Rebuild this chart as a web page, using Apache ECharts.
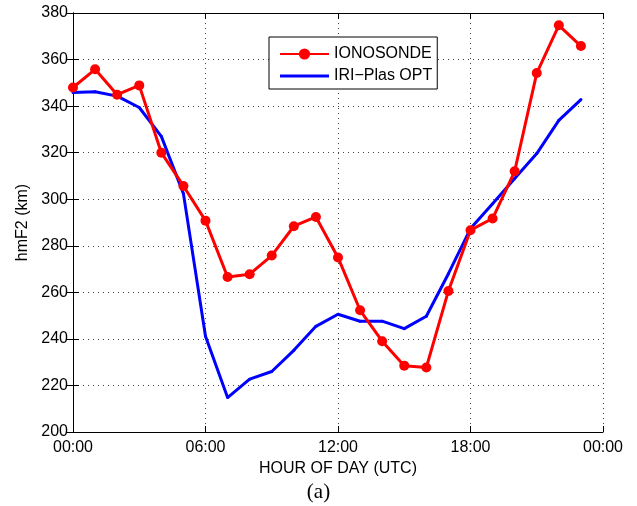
<!DOCTYPE html>
<html>
<head>
<meta charset="utf-8">
<script src="https://cdn.jsdelivr.net/npm/echarts@6/dist/echarts.min.js"></script>
<style>
  html, body { margin: 0; padding: 0; background: #fff; }
  #chart { width: 637px; height: 506px; }
</style>
</head>
<body>
<div id="chart"></div>
<script>
// hour of day (UTC)
const hours = [0, 1, 2, 3, 4, 5, 6, 7, 8, 9, 10, 11, 12, 13, 14, 15, 16, 17, 18, 19, 20, 21, 22, 23]
const ionosonde = [348, 355.8, 344.9, 348.9, 320, 305.7, 290.8, 266.6, 267.8, 275.8, 288.4, 292.4,
  275, 252.3, 239, 228.5, 227.7, 260.6, 286.7, 291.7, 312, 354.2, 374.7, 365.8]
const iriPlas = [345.9, 346.2, 344.3, 339.4, 327, 302.4, 241.1, 214.8, 222.7, 226, 235.1, 245.4,
  250.6, 247.6, 247.6, 244.4, 249.7, 268, 287.4, 298.1, 308.9, 319.6, 333.9, 342.8]
const xTicks = ['00:00', '06:00', '12:00', '18:00', '00:00']

const font = 'Liberation Sans, Arial, sans-serif'
const chart = echarts.init(document.getElementById('chart'))

const gridDots = { show: true, lineStyle: { color: '#444', width: 1, type: [1, 4] } }
const inTick = { show: true, inside: true, length: 6, lineStyle: { color: '#000' } }
// plain line with a tiny dot, for the model entry of the legend
const lineIcon = 'path://M0,0M49,14M0,5.5H49V8.5H0Z'

chart.setOption({
  animation: false,
  grid: { left: 73, right: 34, top: 13, bottom: 74 },
  legend: {
    orient: 'vertical',
    left: 269,
    top: 37,
    padding: [9, 5, 5, 10],
    itemGap: 6,
    itemWidth: 49,
    itemHeight: 14,
    backgroundColor: '#fff',
    borderColor: '#000',
    borderWidth: 1,
    borderRadius: 0,
    textStyle: { fontFamily: font, fontSize: 16, color: '#000' },
    data: [
      { name: 'IONOSONDE' },
      { name: 'IRI\u2212Plas OPT', icon: lineIcon, itemStyle: { color: '#0000ff' } },
    ],
  },
  xAxis: [
    {
      type: 'value', min: 0, max: 24, interval: 6,
      name: 'HOUR OF DAY (UTC)', nameLocation: 'middle', nameGap: 29,
      nameTextStyle: { fontFamily: font, fontSize: 16, color: '#000' },
      axisLine: { lineStyle: { color: '#000', width: 1 } },
      axisTick: inTick,
      axisLabel: {
        fontFamily: font, fontSize: 16, color: '#000', margin: 8,
        formatter: (v) => xTicks[v / 6],
      },
      splitLine: gridDots,
    },
    {
      type: 'value', min: 0, max: 24, interval: 6, position: 'top',
      axisLine: { show: true, lineStyle: { color: '#000', width: 1 } },
      axisTick: inTick, axisLabel: { show: false }, splitLine: { show: false },
    },
  ],
  yAxis: [
    {
      type: 'value', min: 200, max: 380, interval: 20,
      name: 'hmF2 (km)', nameLocation: 'middle', nameGap: 39,
      nameTextStyle: { fontFamily: font, fontSize: 16, color: '#000' },
      axisLine: { show: true, lineStyle: { color: '#000', width: 1 } },
      axisTick: inTick,
      axisLabel: { fontFamily: font, fontSize: 16, color: '#000', margin: 5 },
      splitLine: gridDots,
    },
    {
      type: 'value', min: 200, max: 380, interval: 20, position: 'right',
      axisLine: { show: true, lineStyle: { color: '#000', width: 1 } },
      axisTick: inTick, axisLabel: { show: false }, splitLine: { show: false },
    },
  ],
  series: [
    {
      name: 'IONOSONDE',
      type: 'line',
      data: hours.map((h, i) => [h, ionosonde[i]]),
      symbol: 'circle',
      symbolSize: 10,
      color: '#ff0000',
      lineStyle: { color: '#ff0000', width: 3 },
      itemStyle: { color: '#ff0000' },
      z: 3,
    },
    {
      name: 'IRI\u2212Plas OPT',
      type: 'line',
      data: hours.map((h, i) => [h, iriPlas[i]]),
      symbol: 'circle',
      symbolSize: 3,
      color: '#0000ff',
      lineStyle: { color: '#0000ff', width: 3 },
      itemStyle: { color: '#0000ff' },
      z: 2,
    },
  ],
  graphic: [
    {
      type: 'text', left: 'center', top: 482,
      style: { text: '(a)', font: '21px "Liberation Serif", serif', fill: '#000' },
    },
  ],
})
</script>
</body>
</html>
